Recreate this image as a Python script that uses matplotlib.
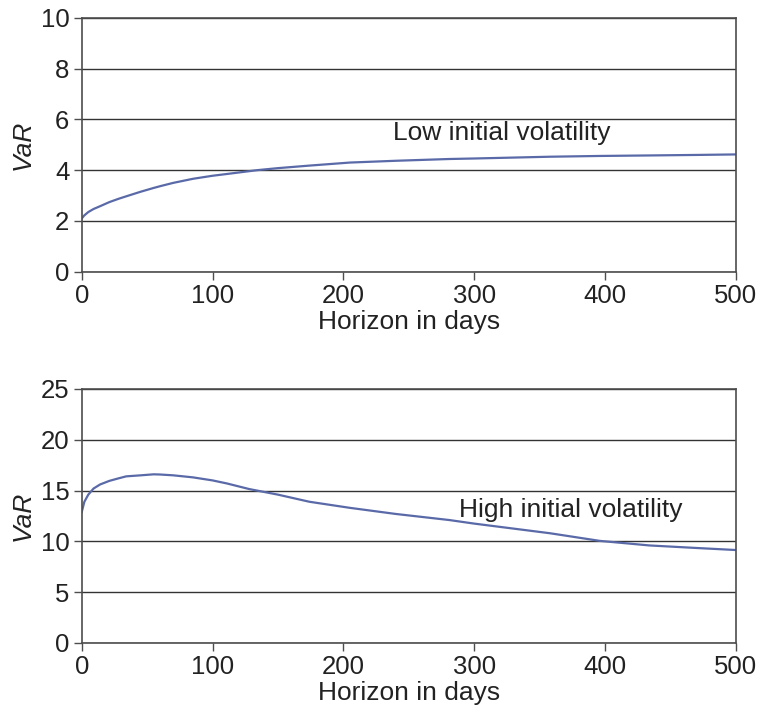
import matplotlib
matplotlib.use("Agg")
import matplotlib.pyplot as plt

plt.rcParams['font.family'] = ['Liberation Sans', 'DejaVu Sans']

# Horizon in days
horizon = [0, 2, 5, 9, 14, 21, 28, 34, 45, 55, 60, 70, 85, 100, 111, 128, 134,
           150, 174, 205, 240, 281, 300, 358, 396, 434, 470, 500]

# VaR, low initial volatility
var_low = [2.10, 2.22, 2.35, 2.47, 2.58, 2.74, 2.87, 2.97, 3.15, 3.30, 3.37, 3.50,
           3.66, 3.78, 3.85, 3.96, 4.00, 4.08, 4.18, 4.30, 4.37, 4.44, 4.46,
           4.53, 4.56, 4.58, 4.60, 4.62]

# VaR, high initial volatility
var_high = [12.9, 13.9, 14.6, 15.2, 15.6, 15.95, 16.2, 16.4, 16.5, 16.6, 16.58, 16.5,
            16.3, 16.0, 15.7, 15.15, 15.0, 14.6, 13.9, 13.3, 12.7, 12.1, 11.75,
            10.8, 10.05, 9.6, 9.35, 9.15]

y_ticks_low = [0, 2, 4, 6, 8, 10]
y_ticks_high = [0, 5, 10, 15, 20, 25]
x_ticks = [0, 100, 200, 300, 400, 500]

line_color = '#5a6aa8'
frame_color = '#4d4d4d'
tick_fs = 18.5
label_fs = 19
note_fs = 19

fig = plt.figure(figsize=(7.57, 7.15), dpi=100)
ax1 = fig.add_axes([0.108, 0.620, 0.864, 0.355])
ax2 = fig.add_axes([0.108, 0.1007, 0.864, 0.3553])


def style_axis(ax, yticks):
    ax.set_xlim(0, 500)
    ax.set_ylim(yticks[0], yticks[-1])
    ax.set_xticks(x_ticks)
    ax.set_yticks(yticks)
    ax.grid(axis='y', color='#333333', linewidth=1.0)
    ax.set_axisbelow(True)
    for s in ax.spines.values():
        s.set_color(frame_color)
        s.set_linewidth(1.2)
    ax.tick_params(direction='out', length=6, width=1.0, color=frame_color,
                   labelsize=tick_fs, pad=3, labelcolor='#222222')
    ax.set_xlabel('Horizon in days', fontsize=label_fs, labelpad=1, color='#222222')
    ax.set_ylabel('VaR', fontsize=label_fs, style='italic', labelpad=4, color='#222222')


ax1.plot(horizon, var_low, color=line_color, linewidth=1.6)
style_axis(ax1, y_ticks_low)
ax1.text(321, 5.47, 'Low initial volatility', fontsize=note_fs, ha='center', va='center',
         color='#222222')

ax2.plot(horizon, var_high, color=line_color, linewidth=1.6)
style_axis(ax2, y_ticks_high)
ax2.text(374, 13.1, 'High initial volatility', fontsize=note_fs, ha='center', va='center',
         color='#222222')

fig.savefig('out.png', dpi=100)
